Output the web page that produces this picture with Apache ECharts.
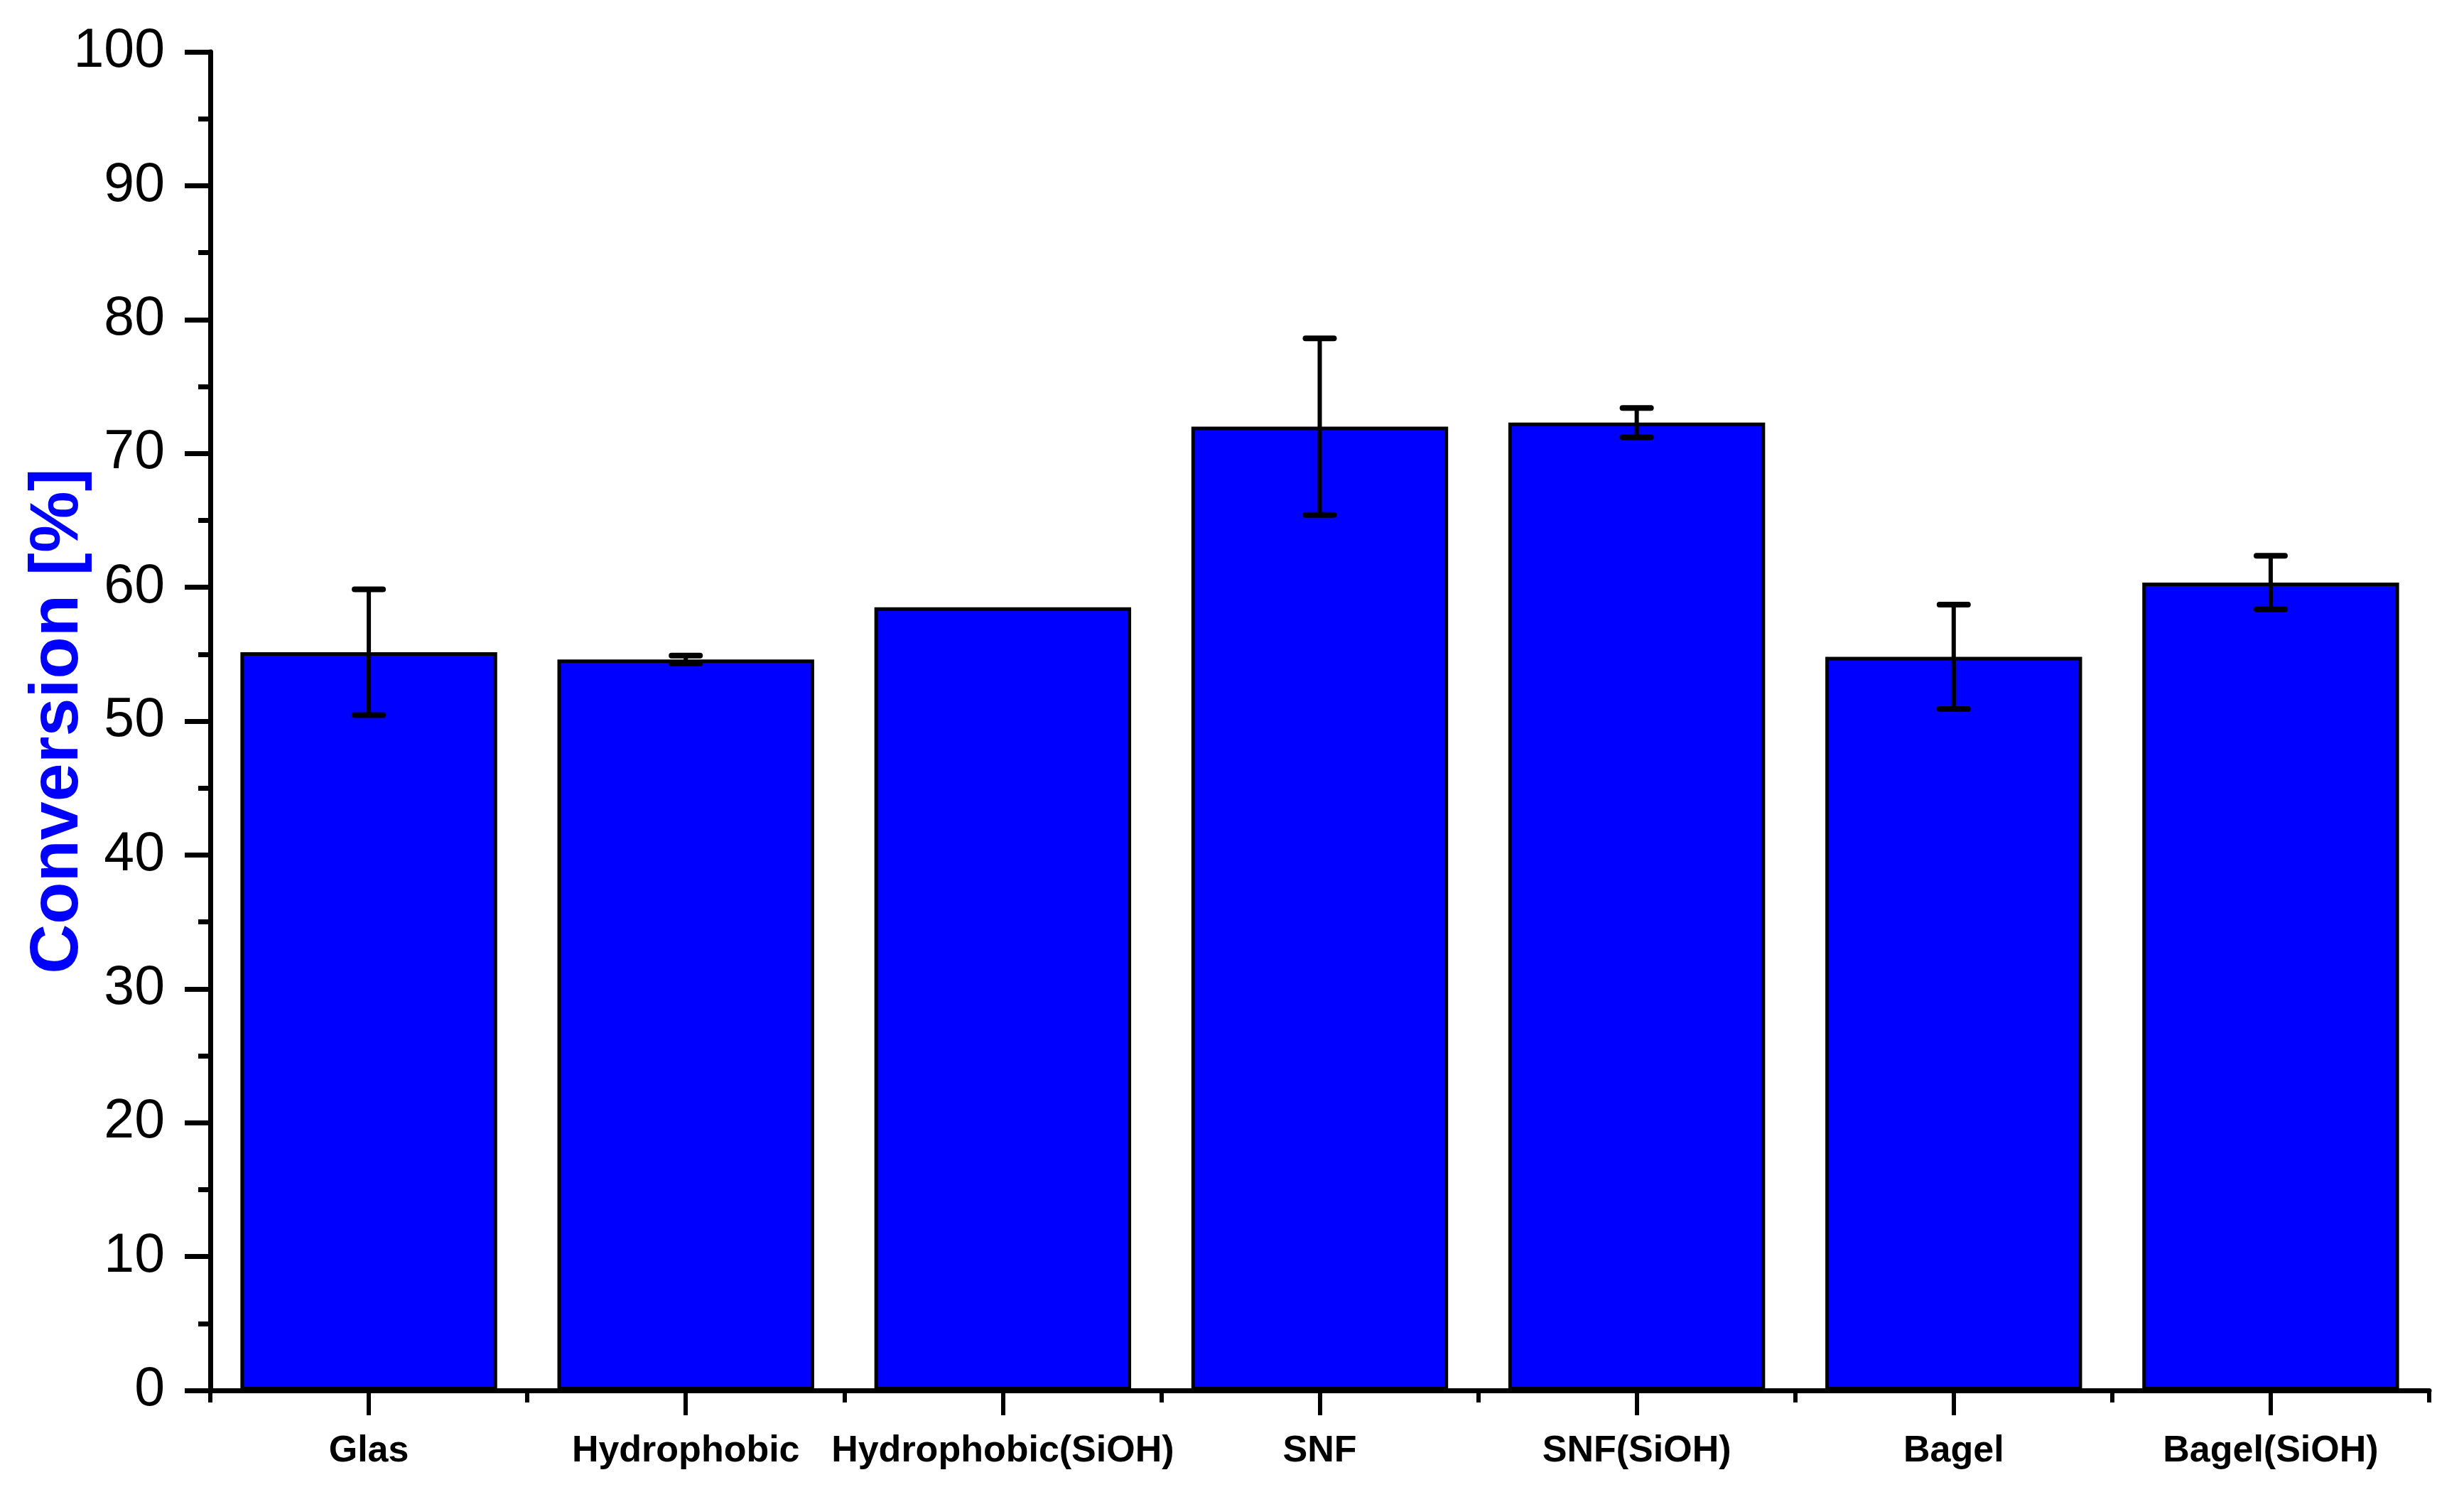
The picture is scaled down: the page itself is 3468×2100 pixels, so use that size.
<!DOCTYPE html>
<html>
<head>
<meta charset="utf-8">
<script src="https://cdn.jsdelivr.net/npm/echarts@6/dist/echarts.min.js"></script>
<style>
html,body{margin:0;padding:0;background:#fff;}
#chart{width:3468px;height:2100px;}
</style>
</head>
<body>
<div id="chart"></div>
<script>
const categories = ['Glas', 'Hydrophobic', 'Hydrophobic(SiOH)', 'SNF', 'SNF(SiOH)', 'Bagel', 'Bagel(SiOH)'];
const conversion = [55.15, 54.6, 58.5, 72.0, 72.3, 54.8, 60.35];
const errors = [4.7, 0.3, 0, 6.6, 1.1, 3.9, 2.0];
const yTicks = [0, 10, 20, 30, 40, 50, 60, 70, 80, 90, 100];

const FONT = '"Liberation Sans", Arial, sans-serif';
const chart = echarts.init(document.getElementById('chart'), null, {renderer: 'canvas'});

const errData = categories.map((c, i) => [i, conversion[i], errors[i]]);

chart.setOption({
  backgroundColor: '#ffffff',
  animation: false,
  grid: {left: 296, right: 49, top: 73, bottom: 143, containLabel: false},
  xAxis: [
    {
      type: 'category',
      data: categories,
      position: 'bottom',
      axisLine: {show: true, lineStyle: {color: '#000', width: 7}},
      axisTick: {show: true, alignWithLabel: true, length: 35, lineStyle: {color: '#000', width: 6}},
      axisLabel: {show: true, color: '#000', fontFamily: FONT, fontWeight: 'bold', fontSize: 52, margin: 60, interval: 0},
      splitLine: {show: false}
    },
    {
      type: 'category',
      data: categories,
      position: 'bottom',
      axisLine: {show: false},
      axisTick: {show: true, alignWithLabel: false, length: 17, lineStyle: {color: '#000', width: 6}},
      axisLabel: {show: false},
      splitLine: {show: false}
    }
  ],
  yAxis: {
    type: 'value',
    min: yTicks[0],
    max: yTicks[yTicks.length - 1],
    interval: 10,
    name: 'Conversion [%]',
    nameLocation: 'middle',
    nameGap: 165,
    nameMoveOverlap: false,
    nameTextStyle: {color: '#0000FF', fontFamily: FONT, fontWeight: 'bold', fontSize: 97},
    axisLine: {show: true, lineStyle: {color: '#000', width: 7}},
    axisTick: {show: true, length: 36, lineStyle: {color: '#000', width: 7}},
    minorTick: {show: true, splitNumber: 2, length: 17, lineStyle: {color: '#000', width: 7}},
    axisLabel: {color: '#000', fontFamily: FONT, fontSize: 77, margin: 64},
    splitLine: {show: false},
    minorSplitLine: {show: false}
  },
  series: [
    {
      type: 'bar',
      xAxisIndex: 0,
      data: conversion,
      barWidth: '81%',
      itemStyle: {color: '#0000FF', borderColor: '#000', borderWidth: 5},
      z: 2
    },
    {
      type: 'custom',
      xAxisIndex: 0,
      data: errData,
      z: 5,
      renderItem: function (params, api) {
        const i = api.value(0), v = api.value(1), e = api.value(2);
        if (!e) return null;
        const top = api.coord([i, v + e]);
        const bot = api.coord([i, v - e]);
        const hw = 20;
        const st = {stroke: '#000', lineWidth: 6, lineCap: 'butt'};
        const cap = {stroke: '#000', lineWidth: 8, lineCap: 'round'};
        return {
          type: 'group',
          children: [
            {type: 'line', shape: {x1: top[0], y1: top[1], x2: bot[0], y2: bot[1]}, style: st},
            {type: 'line', shape: {x1: top[0] - hw, y1: top[1], x2: top[0] + hw, y2: top[1]}, style: cap},
            {type: 'line', shape: {x1: bot[0] - hw, y1: bot[1], x2: bot[0] + hw, y2: bot[1]}, style: cap}
          ]
        };
      }
    }
  ]
});
</script>
</body>
</html>
